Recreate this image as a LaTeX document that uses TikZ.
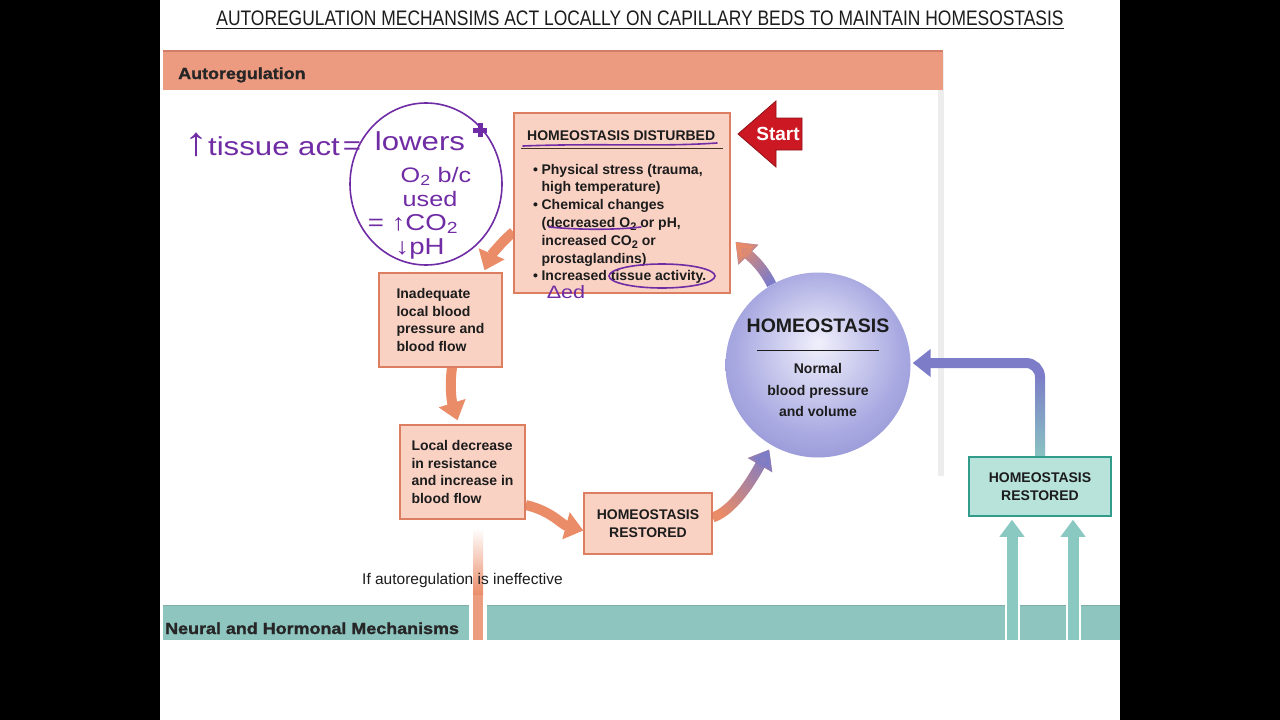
\documentclass[tikz,border=0pt]{standalone}
\usepackage{fontspec}
\setsansfont{Liberation Sans}
\renewcommand{\familydefault}{\sfdefault}
\newfontfamily\narrowfont[FakeStretch=0.83]{Liberation Sans}
\newfontfamily\widefont[FakeStretch=1.12, BoldFeatures={FakeBold=1.4}]{Liberation Sans}
\newfontfamily\handfont[FakeStretch=1.2]{Liberation Sans}
\usetikzlibrary{arrows.meta,fadings,calc}
\newcommand\subtwo{\raisebox{-3pt}{\fontsize{11}{11}\selectfont 2}}
\definecolor{salmon}{RGB}{236,154,128}
\definecolor{salmonD}{RGB}{210,126,102}
\definecolor{boxfill}{RGB}{250,210,196}
\definecolor{boxline}{RGB}{222,126,96}
\definecolor{arrOr}{RGB}{234,140,104}
\definecolor{purp}{RGB}{124,124,200}
\definecolor{tealbar}{RGB}{143,197,191}
\definecolor{tealfill}{RGB}{184,227,219}
\definecolor{tealline}{RGB}{50,155,140}
\definecolor{tealarr}{RGB}{138,200,194}
\definecolor{startred}{RGB}{204,24,34}
\definecolor{handP}{RGB}{112,44,164}
\definecolor{txt}{RGB}{28,28,28}
\definecolor{hLight}{RGB}{240,240,252}
\definecolor{hMid}{RGB}{170,170,226}
\definecolor{hDark}{RGB}{104,104,188}
\pgfdeclareradialshading{homeo}{\pgfpoint{0bp}{6bp}}{color(0bp)=(hLight); color(22bp)=(hMid); color(50bp)=(hDark)}
\tikzfading[name=fadein, left color=transparent!100, right color=transparent!0]
\pgfdeclarelayer{back}
\pgfdeclarelayer{arrows}
\pgfsetlayers{back,arrows,main}
\begin{document}
\begin{tikzpicture}[x=1pt,y=-1pt,
  pinkbox/.style={draw=boxline, fill=boxfill, line width=1.3pt, inner sep=0},
  tealbox/.style={draw=tealline, fill=tealfill, line width=1.5pt, inner sep=0},
  btxt/.style={font=\bfseries\fontsize{14}{17.8}\selectfont, text=txt, inner sep=0},
  flow/.style={draw=arrOr, line width=10pt, -{Triangle[length=18pt,width=27pt]}},
  tealup/.style={draw=tealarr, line width=11pt, -{Triangle[length=17pt,width=24pt]}},
  hand/.style={draw=handP, line width=1.6pt, line cap=round},
  handtxt/.style={text=handP, inner sep=0, font=\handfont\fontsize{26}{26}\selectfont},
  handsm/.style={text=handP, inner sep=0, font=\handfont\fontsize{21}{21}\selectfont},
  bartxt/.style={font=\widefont\bfseries\fontsize{16}{16}\selectfont, text=black!85, inner sep=0, anchor=base west}
]
\useasboundingbox (0,0) rectangle (1280,720);
\begin{pgfonlayer}{back}
\fill[black] (0,0) rectangle (1280,720);
\fill[white] (160,0) rectangle (1120,720);
\fill[black!7] (938,52) rectangle (944,476);
\fill[salmon] (163,51) rectangle (943,90);
\draw[salmonD, line width=2pt] (163,51) -- (943,51);
\fill[tealbar] (163,605) rectangle (1120,640);
\draw[tealbar!88!black, line width=1pt] (163,605.5) -- (1120,605.5);
\fill[white] (469,604) rectangle (487,640);
\draw[white, line width=15pt] (1012,604) -- (1012,640);
\draw[white, line width=15pt] (1073,604) -- (1073,640);
\shade[top color=white, bottom color=arrOr] (473,528) rectangle (483,595);
\fill[arrOr!85!white] (473,595) rectangle (483,640);
\end{pgfonlayer}

% title
\node[font=\narrowfont\fontsize{21}{21}\selectfont, text=txt, inner sep=0, anchor=base] (title) at (640,25) {AUTOREGULATION MECHANSIMS ACT LOCALLY ON CAPILLARY BEDS TO MAINTAIN HOMESOSTASIS};
\draw[txt, line width=1pt] ([yshift=-3pt]title.base west) -- ([yshift=-3pt]title.base east);

\node[bartxt] (auto) at (178,79) {Autoregulation};
\node[bartxt] (neural) at (165,634) {Neural and Hormonal Mechanisms};
\node[font=\fontsize{15.5}{16}\selectfont, text=txt, inner sep=0, anchor=base west] (ifauto) at (362,584) {If autoregulation is ineffective};

% boxes
\node[pinkbox, minimum width=216pt, minimum height=180pt] (hd) at (622,203) {};
\node[btxt, anchor=base west] (hdt) at (527,140) {HOMEOSTASIS DISTURBED};
\draw[txt!75!brown, line width=1.1pt] ([xshift=8pt,yshift=-36pt]hd.north west) -- ([xshift=-8pt,yshift=-36pt]hd.north east);
\node[btxt, anchor=base west] (hdl) at (533,174) {\begin{tabular}[t]{@{}l@{\hspace{3.5pt}}l@{}}
\textbullet & Physical stress (trauma,\\
 & high temperature)\\
\textbullet & Chemical changes\\
 & (decreased O\subtwo{} or pH,\\
 & increased CO\subtwo{} or\\
 & prostaglandins)\\
\textbullet & Increased tissue activity.\end{tabular}};

\node[pinkbox, btxt, minimum width=123pt, minimum height=94pt, align=left] (inad) at (440.5,320) {Inadequate\\local blood\\pressure and\\blood flow};
\node[pinkbox, btxt, minimum width=125pt, minimum height=94pt, align=left] (ld) at (462.5,472) {Local decrease\\in resistance\\and increase in\\blood flow};
\node[pinkbox, btxt, minimum width=128pt, minimum height=61pt, align=center] (hr) at (648,523.5) {HOMEOSTASIS\\RESTORED};
\node[tealbox, btxt, minimum width=142pt, minimum height=59pt, align=center] (tl) at (1040,486.5) {HOMEOSTASIS\\RESTORED};

% circle
\node[circle, minimum size=185pt, inner sep=0, shading=homeo] (c) at (818,365) {};
\node[font=\bfseries\fontsize{19.5}{20}\selectfont, text=txt, inner sep=0] (ct) at (818,326) {HOMEOSTASIS};
\draw[txt, line width=1pt] ([xshift=-61pt,yshift=15pt]c.center) -- ([xshift=61pt,yshift=15pt]c.center);
\node[font=\bfseries\fontsize{14}{21.5}\selectfont, text=txt, inner sep=0, align=center] (cs) at (818,390) {Normal\\blood pressure\\and volume};

% start arrow
\filldraw[fill=startred, draw=startred!70!black, line width=0.8pt] (738,134) -- (776,101) -- (776,118) -- (802,118) -- (802,150) -- (776,150) -- (776,167) -- cycle;
\node[font=\bfseries\fontsize{19}{19}\selectfont, text=white, inner sep=0] (start) at (778,134) {Start};

% connectors
\begin{pgfonlayer}{arrows}
\draw[flow] ([yshift=-29pt]hd.west) .. controls +(-12,10) and +(6,-14) .. ([xshift=44pt,yshift=2pt]inad.north);
\draw[flow] ([xshift=11.5pt]inad.south) .. controls +(-3,22) and +(-5,-16) .. ([xshift=-5pt,yshift=4pt]ld.north);
\draw[flow] ([yshift=-33pt]ld.east) .. controls +(26,6) and +(-22,-6) .. ([yshift=-7pt]hr.west);
\draw[flow, shorten >=5pt] ([yshift=6pt]hr.east) .. controls +(24,-8) and +(-14,24) .. (c.240);
\draw[flow, shorten >=5pt, draw=purp, path fading=fadein, fading angle=45] ([yshift=6pt]hr.east) .. controls +(24,-8) and +(-14,24) .. (c.240);
\draw[flow, draw=purp] (c.120) .. controls +(-10,-20) and +(14,14) .. ([xshift=5pt,yshift=-39pt]hd.east);
\draw[flow, path fading=fadein, fading angle=135] (c.120) .. controls +(-10,-20) and +(14,14) .. ([xshift=5pt,yshift=-39pt]hd.east);
\draw[flow, draw=purp, rounded corners=14pt, shorten >=2pt] (tl.north) |- ([yshift=2pt]c.east);
\draw[draw=tealarr, line width=10pt, path fading=fadein, fading angle=-90] (tl.north) -- ++(0,-78);
\coordinate (u1) at (1012,640);
\coordinate (u2) at (1073,640);
\draw[tealup, shorten >=3pt] (u1) -- (u1 |- tl.south);
\draw[tealup, shorten >=3pt] (u2) -- (u2 |- tl.south);
\end{pgfonlayer}

% handwriting
\node[handtxt] (h1) at (262,145) {{\fontsize{40}{40}\selectfont ↑}tissue act};
\node[handtxt] (h2) at (352,148) {=};
\node[handtxt] (h3) at (420,141) {lowers};
\node[handsm] (h4) at (436,176) {O\textsubscript{2} b/c};
\node[handsm] (h5) at (430,199) {used};
\node[handsm, font=\handfont\fontsize{23}{23}\selectfont] (h6) at (413,224) {= ↑CO\textsubscript{2}};
\node[handsm, font=\handfont\fontsize{23}{23}\selectfont] (h7) at (420,249) {↓pH};
\node[handtxt, font=\handfont\fontsize{18}{18}\selectfont] (h8) at (566,292) {Δed};
\draw[hand] (426,184) ellipse [x radius=76pt, y radius=81pt];
\draw[handP, line width=5pt] (473,130) -- (487,130) (480,123) -- (480,137);
\draw[hand] (523,146) .. controls (600,143) and (660,147) .. (717,143);
\draw[hand] (549,227) .. controls (580,230) and (615,230) .. (641,227);
\draw[hand] (662,276) ellipse [x radius=53pt, y radius=12pt];
\end{tikzpicture}
\end{document}
